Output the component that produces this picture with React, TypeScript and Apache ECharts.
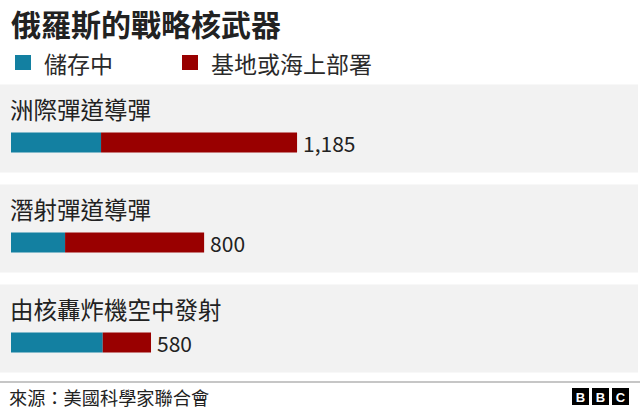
import React, { useEffect, useRef } from "react";
import * as echarts from "echarts";

const categories = ["洲際彈道導彈", "潛射彈道導彈", "由核轟炸機空中發射"];
const seriesNames = ["儲存中", "基地或海上部署"];
const stored = [373, 224, 380];
const deployed = [812, 576, 200];
const totals = [1185, 800, 580];
const titleText = "俄羅斯的戰略核武器";
const sourceText = "來源：美國科學家聯合會";

const FONT = "'Noto Sans CJK TC', 'Noto Sans', sans-serif";

export default function App() {
  const ref = useRef<HTMLDivElement>(null);
  useEffect(() => {
    if (!ref.current) return;
    const chart = echarts.init(ref.current, undefined, { renderer: "svg" });
    const option: any = {
      animation: false,
      backgroundColor: "#ffffff",
      title: {
        text: titleText,
        left: 6,
        top: 3,
        textStyle: { fontFamily: FONT, fontSize: 30, fontWeight: "bold", color: "#222222" },
      },
      legend: {
        left: 10,
        top: 46,
        icon: "rect",
        itemWidth: 16,
        itemHeight: 15,
        itemGap: 69,
        data: seriesNames,
        textStyle: { fontFamily: FONT, fontSize: 23, color: "#2a2a2a", padding: [0, 0, 0, 8] },
      },
      grid: { left: 11, top: 92.5, width: 603.5, height: 300 },
      xAxis: { type: "value", min: 0, max: 2500, show: false },
      yAxis: { type: "category", data: categories, inverse: true, show: false },
      series: [
        {
          type: "custom",
          name: "panels",
          z: 0,
          silent: true,
          data: categories.map((_, i) => [0, i]),
          encode: { x: 0, y: 1 },
          renderItem: (params: any, api: any) => {
            const idx = api.value(1);
            const pt = api.coord([0, idx]);
            const cy = pt[1];
            return {
              type: "group",
              children: [
                {
                  type: "rect",
                  shape: { x: 0, y: cy - 58, width: 638, height: 88 },
                  style: { fill: "#f2f2f2" },
                },
                {
                  type: "text",
                  style: {
                    x: 10,
                    y: cy - 34,
                    text: categories[idx],
                    fill: "#222222",
                    fontSize: 23.5,
                    fontFamily: FONT,
                    verticalAlign: "middle",
                    align: "left",
                  },
                },
              ],
            };
          },
        },
        {
          name: seriesNames[0],
          type: "bar",
          stack: "total",
          barWidth: 20,
          z: 2,
          itemStyle: { color: "#1380A1" },
          data: stored,
        },
        {
          name: seriesNames[1],
          type: "bar",
          stack: "total",
          barWidth: 20,
          z: 2,
          itemStyle: { color: "#990000" },
          label: {
            show: true,
            position: "right",
            distance: 6,
            formatter: (p: any) => totals[p.dataIndex].toLocaleString("en-US"),
            fontFamily: FONT,
            fontSize: 21,
            color: "#222222",
          },
          data: deployed,
        },
      ],
      graphic: [
        {
          type: "line",
          shape: { x1: 0, y1: 382, x2: 640, y2: 382 },
          style: { stroke: "#b3b3b3", lineWidth: 1.5 },
        },
        {
          type: "text",
          x: 9,
          y: 397,
          style: {
            text: sourceText,
            fill: "#222222",
            fontSize: 18.2,
            fontFamily: FONT,
            verticalAlign: "middle",
          },
        },
        ...["B", "B", "C"].map((ch, i) => ({
          type: "group",
          x: 572 + i * 20,
          y: 388,
          children: [
            { type: "rect", shape: { x: 0, y: 0, width: 17, height: 17 }, style: { fill: "#000000" } },
            {
              type: "text",
              x: 8.5,
              y: 9,
              style: {
                text: ch,
                fill: "#ffffff",
                fontSize: 13,
                fontWeight: "bold",
                fontFamily: "'Liberation Sans', Arial, sans-serif",
                align: "center",
                verticalAlign: "middle",
              },
            },
          ],
        })),
      ],
    };
    chart.setOption(option);
    return () => chart.dispose();
  }, []);
  return (
    <div
      ref={ref}
      style={{ position: "fixed", left: 0, top: 0, width: 640, height: 412, background: "#fff" }}
    />
  );
}
